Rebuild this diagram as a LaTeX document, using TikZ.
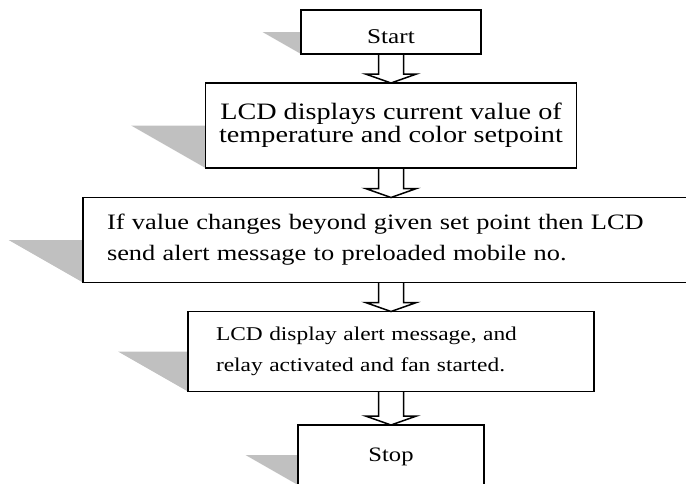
\documentclass[tikz,border=0pt]{standalone}
\usepackage{fontspec}
\setmainfont{Liberation Serif}[FakeStretch=1.2]
\usetikzlibrary{positioning, calc, backgrounds}
\definecolor{lineColor}{RGB}{0, 0, 0}
\definecolor{shadeGray}{RGB}{192, 192, 192}

\begin{document}
\begin{tikzpicture}[x=1pt, y=1pt, node distance=29pt]

% Style definitions
\tikzset{
    base/.style={
        rectangle, draw=lineColor, line width=1.5pt, fill=white, inner sep=0pt, outer sep=0pt,
        font=\fontsize{21}{23}\selectfont, align=center
    },
    terminal/.style={base, minimum width=180pt, minimum height=44pt},
    process/.style={base, minimum height=85pt},
    widetext/.style={align=left, font=\fontsize{22}{31}\selectfont},
    hollow/.style={draw=lineColor, line width=1.5pt, line join=miter},
    shade/.style={fill=shadeGray}
}

\useasboundingbox (0,0) rectangle (686,-483);
\clip (0,0) rectangle (686,-483);

% Start
\node (start) [terminal, text height=22pt, text depth=0pt] at (391,-32) {Start};

% Readout on the LCD
\node (readout) [process, minimum width=371pt, font=\fontsize{23.5}{23}\selectfont, below=29pt of start] {
    LCD displays current value of\\
    temperature and color setpoint
};

% Alert by message
\node (alert) [process, widetext, text width=568pt, inner xsep=24pt, below=29.5pt of readout] {
    If value changes beyond given set point then LCD\\
    send alert message to preloaded mobile no.
};

% Relay and fan
\node (relay) [process, widetext, font=\fontsize{19.5}{31}\selectfont, minimum height=80pt, text width=350pt, inner xsep=28pt, below=29pt of alert] {
    LCD display alert message, and\\
    relay activated and fan started.
};

% Stop
\node (stop) [terminal, minimum width=186pt, minimum height=60pt, font=\fontsize{20.5}{23}\selectfont, text height=16pt, text depth=4pt, below=33.5pt of relay] {Stop};

% Grey wedges behind the boxes
\begin{pgfonlayer}{background}
    \fill [shade] (start.west) -- (start.south west) -- ($(start.west)!1.75!-90:(start.south west)$) -- cycle;
    \fill [shade] (readout.west) -- (readout.south west) -- ($(readout.west)!1.75!-90:(readout.south west)$) -- cycle;
    \fill [shade] (alert.west) -- (alert.south west) -- ($(alert.west)!1.75!-90:(alert.south west)$) -- cycle;
    \fill [shade] (relay.west) -- (relay.south west) -- ($(relay.west)!1.75!-90:(relay.south west)$) -- cycle;
    \fill [shade] (stop.west) -- (stop.south west) -- ($(stop.west)!1.75!-90:(stop.south west)$) -- cycle;
\end{pgfonlayer}

% Connections
\draw [hollow] ($(start.south)+(-12.5,0)$) -- ($(readout.north)+(-12.5,9)$) -- ($(readout.north)+(-25.5,9)$)
    -- (readout.north) -- ($(readout.north)+(25.5,9)$) -- ($(readout.north)+(12.5,9)$) -- ($(start.south)+(12.5,0)$);
\draw [hollow] ($(readout.south)+(-12.5,0)$) -- ($(alert.north)+(-12.5,9)$) -- ($(alert.north)+(-25.5,9)$)
    -- (alert.north) -- ($(alert.north)+(25.5,9)$) -- ($(alert.north)+(12.5,9)$) -- ($(readout.south)+(12.5,0)$);
\draw [hollow] ($(alert.south)+(-12.5,0)$) -- ($(relay.north)+(-12.5,9)$) -- ($(relay.north)+(-25.5,9)$)
    -- (relay.north) -- ($(relay.north)+(25.5,9)$) -- ($(relay.north)+(12.5,9)$) -- ($(alert.south)+(12.5,0)$);
\draw [hollow] ($(relay.south)+(-12.5,0)$) -- ($(stop.north)+(-12.5,9)$) -- ($(stop.north)+(-25.5,9)$)
    -- (stop.north) -- ($(stop.north)+(25.5,9)$) -- ($(stop.north)+(12.5,9)$) -- ($(relay.south)+(12.5,0)$);

\end{tikzpicture}
\end{document}
